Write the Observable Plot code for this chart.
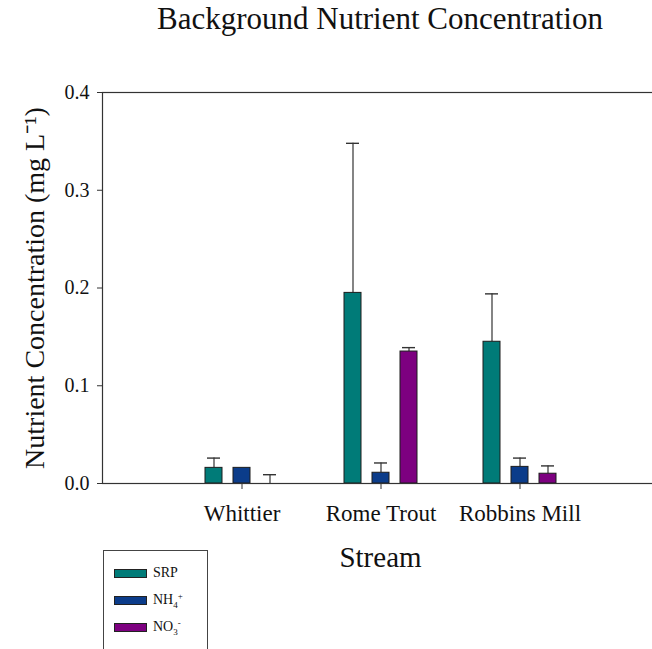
<!DOCTYPE html>
<html>
<head>
<meta charset="utf-8">
<script src="https://cdn.jsdelivr.net/npm/d3@7"></script>
<script src="https://cdn.jsdelivr.net/npm/@observablehq/plot@0.6"></script>
<style>
  html, body { margin: 0; padding: 0; background: #fff; overflow: hidden; }
  #wrap { position: relative; width: 652px; height: 649px; overflow: hidden; font-family: "Liberation Serif", serif; color: #111; }
  #title { height: 60px; width: 760px; text-align: center; font-size: 31px; line-height: 37px; }
  #chart svg { display: block; max-width: none !important; }
  #chart [aria-label="y-axis tick label"] { font-size: 20px; }
  #chart [aria-label="x-axis tick label"] { font-size: 23px; }
  #chart [aria-label="y-axis label"] { font-size: 28px; }
  #chart [aria-label="x-axis label"] { font-size: 29px; }
  #legend { position: absolute; left: 103px; top: 550px; width: 105px; height: 120px; border: 1px solid #444; box-sizing: border-box; }
  .item { position: absolute; left: 10px; height: 14px; display: flex; align-items: center; font-size: 14px; line-height: 14px; }
  .sw { width: 33px; height: 9px; border: 1px solid #222; box-sizing: border-box; margin-right: 6px; }
  .sub, .sup { font-size: 9px; line-height: 0; position: relative; }
  .sub { top: 4px; }
  .sup { top: -5px; }
</style>
</head>
<body>
<div id="wrap">
  <div id="title">Background Nutrient Concentration</div>
  <div id="chart"></div>
  <div id="legend"></div>
</div>
<script>
// Streams sampled and the three nutrients measured at each
const streams = ["Whittier", "Rome Trout", "Robbins Mill"];
const nutrients = ["SRP", "NH4", "NO3"];
const colors = ["#007b78", "#0b3c8a", "#7d0080"];

// Mean concentration (mg/L) and one-sided error per stream
const srp = [0.016, 0.195, 0.145];
const srpErr = [0.010, 0.153, 0.049];
const nh4 = [0.016, 0.011, 0.017];
const nh4Err = [0, 0.010, 0.009];
const no3 = [0, 0.135, 0.010];
const no3Err = [0.009, 0.004, 0.008];

const yTicks = [0, 0.1, 0.2, 0.3, 0.4];

const means = [srp, nh4, no3];
const errs = [srpErr, nh4Err, no3Err];
const offsets = [-28, 0, 28];

const rows = nutrients.flatMap((n, k) =>
  streams.map((s, i) => ({stream: s, nutrient: n, value: means[k][i], err: errs[k][i]}))
);

const marks = [];
nutrients.forEach((n, k) => {
  const data = rows.filter(d => d.nutrient === n);
  const withErr = data.filter(d => d.err > 0);
  marks.push(
    Plot.ruleX(withErr, {x: "stream", y1: "value", y2: d => d.value + d.err, stroke: "#333", strokeWidth: 1.2, dx: offsets[k]}),
    Plot.tickY(withErr, {x: "stream", y: d => d.value + d.err, stroke: "#333", strokeWidth: 1.4, dx: offsets[k], insetLeft: 2, insetRight: 2}),
    Plot.barY(data.filter(d => d.value > 0), {x: "stream", y: "value", fill: colors[k], stroke: "#1c1c1c", strokeWidth: 1, dx: offsets[k]})
  );
});

const chart = Plot.plot({
  width: 660,
  height: 589,
  marginTop: 32,
  marginLeft: 102,
  marginRight: 2,
  marginBottom: 166,
  style: {fontFamily: "Liberation Serif, serif", color: "#111", background: "white", maxWidth: "none"},
  x: {domain: streams, paddingInner: 0.878, paddingOuter: 0.939},
  y: {domain: [0, 0.4]},
  marks: [
    Plot.axisY({ticks: yTicks, tickFormat: d3.format(".1f"), tickSize: 5, tickPadding: 8, stroke: "#333",
      label: "Nutrient Concentration (mg L\u207B\u00B9)", labelAnchor: "center", labelArrow: "none", labelOffset: 78}),
    Plot.axisX({tickSize: 6, tickPadding: 15, stroke: "#333",
      label: "Stream", labelAnchor: "center", labelArrow: "none", labelOffset: 83}),
    ...marks,
    Plot.frame({stroke: "#333", strokeWidth: 1.2})
  ]
});
document.getElementById("chart").appendChild(chart);

// Legend: swatch + label, with chemical sub/superscripts
const legendLabels = [
  "SRP",
  'NH<span class="sub">4</span><span class="sup">+</span>',
  'NO<span class="sub">3</span><span class="sup">-</span>'
];
const legend = document.getElementById("legend");
legendLabels.forEach((lab, k) => {
  const item = document.createElement("div");
  item.className = "item";
  item.style.top = (15 + 27 * k) + "px";
  item.innerHTML = `<div class="sw" style="background:${colors[k]}"></div><span>${lab}</span>`;
  legend.appendChild(item);
});
</script>
</body>
</html>
